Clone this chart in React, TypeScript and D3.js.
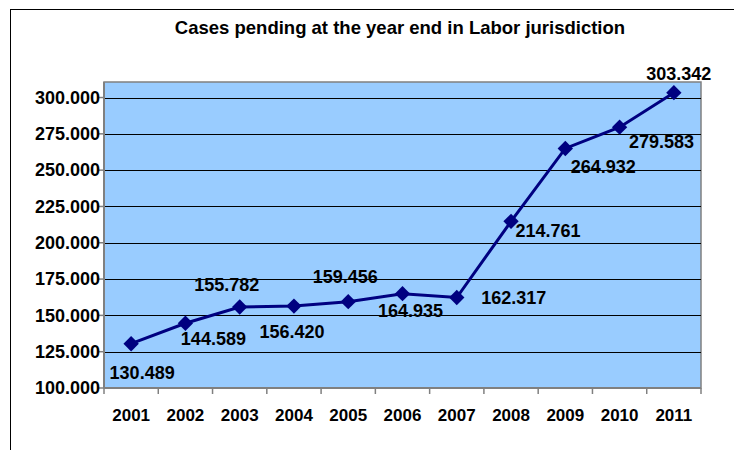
import React from "react";
import * as d3 from "d3";

const years = ["2001","2002","2003","2004","2005","2006","2007","2008","2009","2010","2011"];
const pending = [130489,144589,155782,156420,159456,164935,162317,214761,264932,279583,303342];
const yTicks = [100000,125000,150000,175000,200000,225000,250000,275000,300000];
const title = "Cases pending at the year end in Labor jurisdiction";
// label offsets (dx, dy) relative to each marker
const labelOffsets: [number, number][] = [
  [11, 29],[28, 15],[-13, -22],[-2, 26],[-3, -25],[8, 17],[57, 0],[37, 9],[38, 18],[42, 15],[5, -19],
];

const W = 734, H = 450;
const plot = { left: 104, right: 701, top: 82, bottom: 388 };
const FONT = "'Liberation Sans', Arial, sans-serif";

const fmtNum = (v: number) => d3.format(",")(v).replace(/,/g, ".");

export default function App() {
  const x = d3.scaleBand().domain(years).range([plot.left, plot.right]).padding(0);
  const y = d3.scaleLinear().domain([100000, 310700]).range([plot.bottom, plot.top]);
  const cx = (i: number) => (x(years[i]) as number) + x.bandwidth() / 2;
  const line = d3.line<number>()
    .x((_, i) => cx(i))
    .y((d) => y(d));
  const diamond = d3.symbol().type(d3.symbolDiamond2).size(150)();

  return (
    <svg width={W} height={H} style={{ position: "absolute", left: 0, top: 0, background: "#fff" }} fontFamily={FONT}>
      <rect x={10.5} y={9.5} width={900} height={600} fill="#fff" stroke="#000" strokeWidth={1} />
      <text x={400} y={34} textAnchor="middle" fontSize={18.5} fontWeight="bold" fill="#000">{title}</text>
      <rect x={plot.left} y={plot.top} width={plot.right - plot.left} height={plot.bottom - plot.top} fill="#99CCFF" stroke="#808080" strokeWidth={1.5} />
      {yTicks.slice(1).map((t) => (
        <line key={t} x1={plot.left} x2={plot.right} y1={Math.round(y(t)) + 0.5} y2={Math.round(y(t)) + 0.5} stroke="#000" strokeWidth={1} />
      ))}
      <line x1={plot.left} x2={plot.left} y1={plot.top} y2={plot.bottom} stroke="#808080" strokeWidth={2} />
      <line x1={plot.left} x2={plot.right} y1={plot.bottom} y2={plot.bottom} stroke="#808080" strokeWidth={2} />
      {yTicks.map((t) => (
        <g key={t}>
          <line x1={plot.left - 6} x2={plot.left} y1={y(t)} y2={y(t)} stroke="#808080" strokeWidth={1.5} />
          <text x={plot.left - 4} y={y(t)} dy="0.35em" textAnchor="end" fontSize={18} fontWeight="bold">{fmtNum(t)}</text>
        </g>
      ))}
      {years.map((yr) => (
        <line key={"t" + yr} x1={x(yr) as number} x2={x(yr) as number} y1={plot.bottom} y2={plot.bottom + 6} stroke="#808080" strokeWidth={1.5} />
      ))}
      <line x1={plot.right} x2={plot.right} y1={plot.bottom} y2={plot.bottom + 6} stroke="#808080" strokeWidth={1.5} />
      {years.map((yr, i) => (
        <text key={"l" + yr} x={cx(i)} y={415} dy="0.35em" textAnchor="middle" fontSize={17} fontWeight="bold">{yr}</text>
      ))}
      <path d={line(pending) || ""} fill="none" stroke="#000080" strokeWidth={3} />
      {pending.map((v, i) => (
        <path key={"m" + i} d={diamond || ""} transform={`translate(${cx(i)},${y(v)})`} fill="#000080" />
      ))}
      {pending.map((v, i) => (
        <text key={"d" + i} x={cx(i) + labelOffsets[i][0]} y={y(v) + labelOffsets[i][1]} dy="0.35em" textAnchor="middle" fontSize={18} fontWeight="bold">{fmtNum(v)}</text>
      ))}
    </svg>
  );
}
